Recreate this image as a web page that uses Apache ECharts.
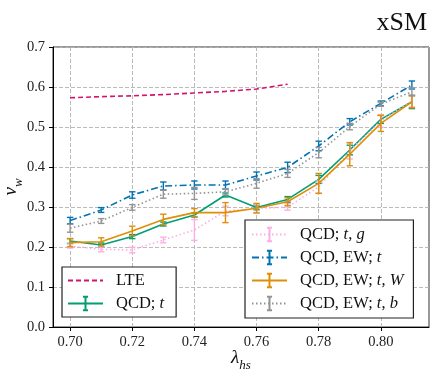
<!DOCTYPE html>
<html>
<head>
<meta charset="utf-8">
<script src="https://cdn.jsdelivr.net/npm/echarts@6/dist/echarts.min.js"></script>
<style>html,body{margin:0;padding:0;background:#fff}#c{width:438px;height:370px}</style>
</head>
<body>
<div id="c"></div>
<script>
// ---- data ----
const lambdaHS = [0.70, 0.71, 0.72, 0.73, 0.74, 0.75, 0.76, 0.77, 0.78, 0.79, 0.80, 0.81];
const lteLambda = [0.70, 0.71, 0.72, 0.73, 0.74, 0.75, 0.76, 0.77];
const lteVw = [0.573, 0.576, 0.578, 0.581, 0.585, 0.589, 0.595, 0.607];

const qcdT      = [0.215, 0.205, 0.226, 0.2575, 0.280, 0.330, 0.299, 0.319, 0.369, 0.4425, 0.519, 0.563];
const qcdTErr   = [0.006, 0.005, 0.005, 0.005, 0.005, 0.005, 0.006, 0.007, 0.010, 0.012, 0.010, 0.017];

const qcdTG     = [0.2025, 0.194, 0.1925, 0.2175, 0.2425, 0.290, 0.296, 0.300, 0.350, 0.440, 0.515, 0.565];
const qcdTGErr  = [0.005, 0.006, 0.007, 0.007, 0.026, 0.012, 0.010, 0.008, 0.015, 0.020, 0.016, 0.015];

const ewT       = [0.266, 0.2925, 0.330, 0.3525, 0.355, 0.355, 0.3775, 0.399, 0.4525, 0.513, 0.559, 0.605];
const ewTErr    = [0.008, 0.006, 0.008, 0.010, 0.010, 0.010, 0.010, 0.013, 0.012, 0.008, 0.006, 0.010];

const ewTW      = [0.211, 0.213, 0.240, 0.269, 0.286, 0.286, 0.297, 0.313, 0.359, 0.432, 0.509, 0.563];
const ewTWErr   = [0.010, 0.010, 0.012, 0.013, 0.010, 0.025, 0.012, 0.010, 0.025, 0.029, 0.020, 0.015];

const ewTB      = [0.247, 0.265, 0.299, 0.332, 0.334, 0.338, 0.359, 0.384, 0.436, 0.501, 0.557, 0.588];
const ewTBErr   = [0.010, 0.006, 0.007, 0.010, 0.015, 0.008, 0.012, 0.010, 0.013, 0.008, 0.005, 0.010];

const xTicks = [0.70, 0.72, 0.74, 0.76, 0.78, 0.80];

// ---- styling ----
const SERIF = '"Liberation Serif", "DejaVu Serif", serif';
const C = {
  lte: '#d4136f', green: '#029e73', pink: '#fbafe4',
  blue: '#0173b2', orange: '#de8f05', gray: '#949494'
};
const ebIcon = 'path://M0,0 M16,16 M5,0 L11,0 M8,0 L8,16 M5,16 L11,16';
const noIcon = 'path://M0,0 M16,16';

function pairs(xs, ys) { return xs.map((x, i) => [x, ys[i]]); }
function triples(xs, ys, es) { return xs.map((x, i) => [x, ys[i], es[i]]); }

function lineSeries(name, ys, color, dash, z) {
  return {
    name: name, type: 'line', data: pairs(lambdaHS, ys),
    symbol: ebIcon, showSymbol: false, z: z,
    itemStyle: { color: color, borderColor: color, borderWidth: 1.5 },
    lineStyle: { color: color, width: 1.6, type: dash },
    emphasis: { disabled: true }, silent: true
  };
}
function errSeries(name, ys, es, color, z) {
  return {
    name: name, type: 'custom', z: z, silent: true,
    data: triples(lambdaHS, ys, es),
    encode: { x: 0, y: 1 },
    renderItem: function (params, api) {
      const x = api.value(0), y = api.value(1), e = api.value(2);
      const t = api.coord([x, y + e]), b = api.coord([x, y - e]);
      const cap = 3.2;
      const st = { stroke: color, lineWidth: 1.4 };
      return { type: 'group', children: [
        { type: 'line', shape: { x1: t[0], y1: t[1], x2: b[0], y2: b[1] }, style: st },
        { type: 'line', shape: { x1: t[0] - cap, y1: t[1], x2: t[0] + cap, y2: t[1] }, style: st },
        { type: 'line', shape: { x1: b[0] - cap, y1: b[1], x2: b[0] + cap, y2: b[1] }, style: st }
      ]};
    }
  };
}

const legendLabels = {
  'LTE': 'LTE',
  'QCD; t': 'QCD; {i|t}',
  'QCD; t, g': 'QCD; {i|t}, {i|g}',
  'QCD, EW; t': 'QCD, EW; {i|t}',
  'QCD, EW; t, W': 'QCD, EW; {i|t}, {i|W}',
  'QCD, EW; t, b': 'QCD, EW; {i|t}, {i|b}'
};
const LFS = 16.5;
const legendCommon = {
  orient: 'vertical', itemWidth: 35, itemHeight: 17, itemGap: 6,
  backgroundColor: '#fff', borderColor: '#222', borderWidth: 1.2, borderRadius: 0,
  selectedMode: false,
  formatter: function (n) { return legendLabels[n]; },
  textStyle: { fontFamily: SERIF, fontSize: LFS, color: '#111', padding: [0, 0, 0, 8],
    rich: { i: { fontFamily: SERIF, fontSize: LFS, fontStyle: 'italic', color: '#111' } } }
};
const nameRich = {
  i: { fontFamily: SERIF, fontSize: 19, fontStyle: 'italic', color: '#111', padding: [0, 0, 5, 0], verticalAlign: 'bottom' },
  s: { fontFamily: SERIF, fontSize: 13, fontStyle: 'italic', color: '#111', verticalAlign: 'bottom' }
};

const chart = echarts.init(document.getElementById('c'), null, { renderer: 'canvas' });
chart.setOption({
  animation: false,
  backgroundColor: '#fff',
  title: { text: 'xSM', right: 6, top: 5,
    textStyle: { fontFamily: SERIF, fontSize: 26, fontWeight: 'normal', color: '#111' } },
  grid: { left: 53, right: 9, top: 47, bottom: 43, outerBoundsMode: 'none', containLabel: false,
    show: true, borderColor: '#333', borderWidth: 1 },
  xAxis: {
    type: 'value', min: 0.6945, max: 0.8155,
    name: '{i|λ}{s|hs}', nameLocation: 'middle', nameGap: 21, nameMoveOverlap: false,
    nameTextStyle: { rich: nameRich },
    axisLine: { lineStyle: { color: '#000', width: 1 } },
    axisTick: { length: 4, customValues: xTicks, lineStyle: { color: '#000' } },
    axisLabel: { customValues: xTicks, margin: 8, fontFamily: SERIF, fontSize: 14.5, color: '#222',
      formatter: v => v.toFixed(2) },
    splitLine: { show: true, lineStyle: { color: '#b3b3b3', width: 0.9, type: [4, 2] } }
  },
  yAxis: {
    type: 'value', min: 0, max: 0.7, interval: 0.1,
    name: '{i|v}{s|w}', nameLocation: 'middle', nameGap: 28, nameRotate: 90, nameMoveOverlap: false,
    nameTextStyle: { rich: nameRich },
    axisLine: { show: true, lineStyle: { color: '#000', width: 1 } },
    axisTick: { show: true, length: 4, lineStyle: { color: '#000' } },
    axisLabel: { margin: 8, fontFamily: SERIF, fontSize: 14.5, color: '#222', formatter: v => v.toFixed(1) },
    splitLine: { show: true, lineStyle: { color: '#b3b3b3', width: 0.9, type: [4, 2] } }
  },
  legend: [
    Object.assign({}, legendCommon, { left: 62, top: 267, padding: [5, 12, 5, 5],
      data: ['LTE', 'QCD; t'] }),
    Object.assign({}, legendCommon, { left: 245, top: 220, padding: [6, 10, 6, 6],
      data: ['QCD; t, g', 'QCD, EW; t', 'QCD, EW; t, W', 'QCD, EW; t, b'] })
  ],
  series: [
    { name: 'LTE', type: 'line', data: pairs(lteLambda, lteVw), symbol: noIcon, showSymbol: false, z: 2,
      itemStyle: { color: C.lte }, lineStyle: { color: C.lte, width: 1.6, type: [5, 3] }, silent: true },
    lineSeries('QCD; t', qcdT, C.green, 'solid', 3),
    errSeries('err-qcdT', qcdT, qcdTErr, C.green, 3),
    lineSeries('QCD; t, g', qcdTG, C.pink, [1.5, 2.5], 4),
    errSeries('err-qcdTG', qcdTG, qcdTGErr, C.pink, 4),
    lineSeries('QCD, EW; t', ewT, C.blue, [7, 3, 1.5, 3], 5),
    errSeries('err-ewT', ewT, ewTErr, C.blue, 5),
    lineSeries('QCD, EW; t, W', ewTW, C.orange, 'solid', 6),
    errSeries('err-ewTW', ewTW, ewTWErr, C.orange, 6),
    lineSeries('QCD, EW; t, b', ewTB, C.gray, [1.5, 2.5], 7),
    errSeries('err-ewTB', ewTB, ewTBErr, C.gray, 7)
  ]
});
</script>
</body>
</html>
